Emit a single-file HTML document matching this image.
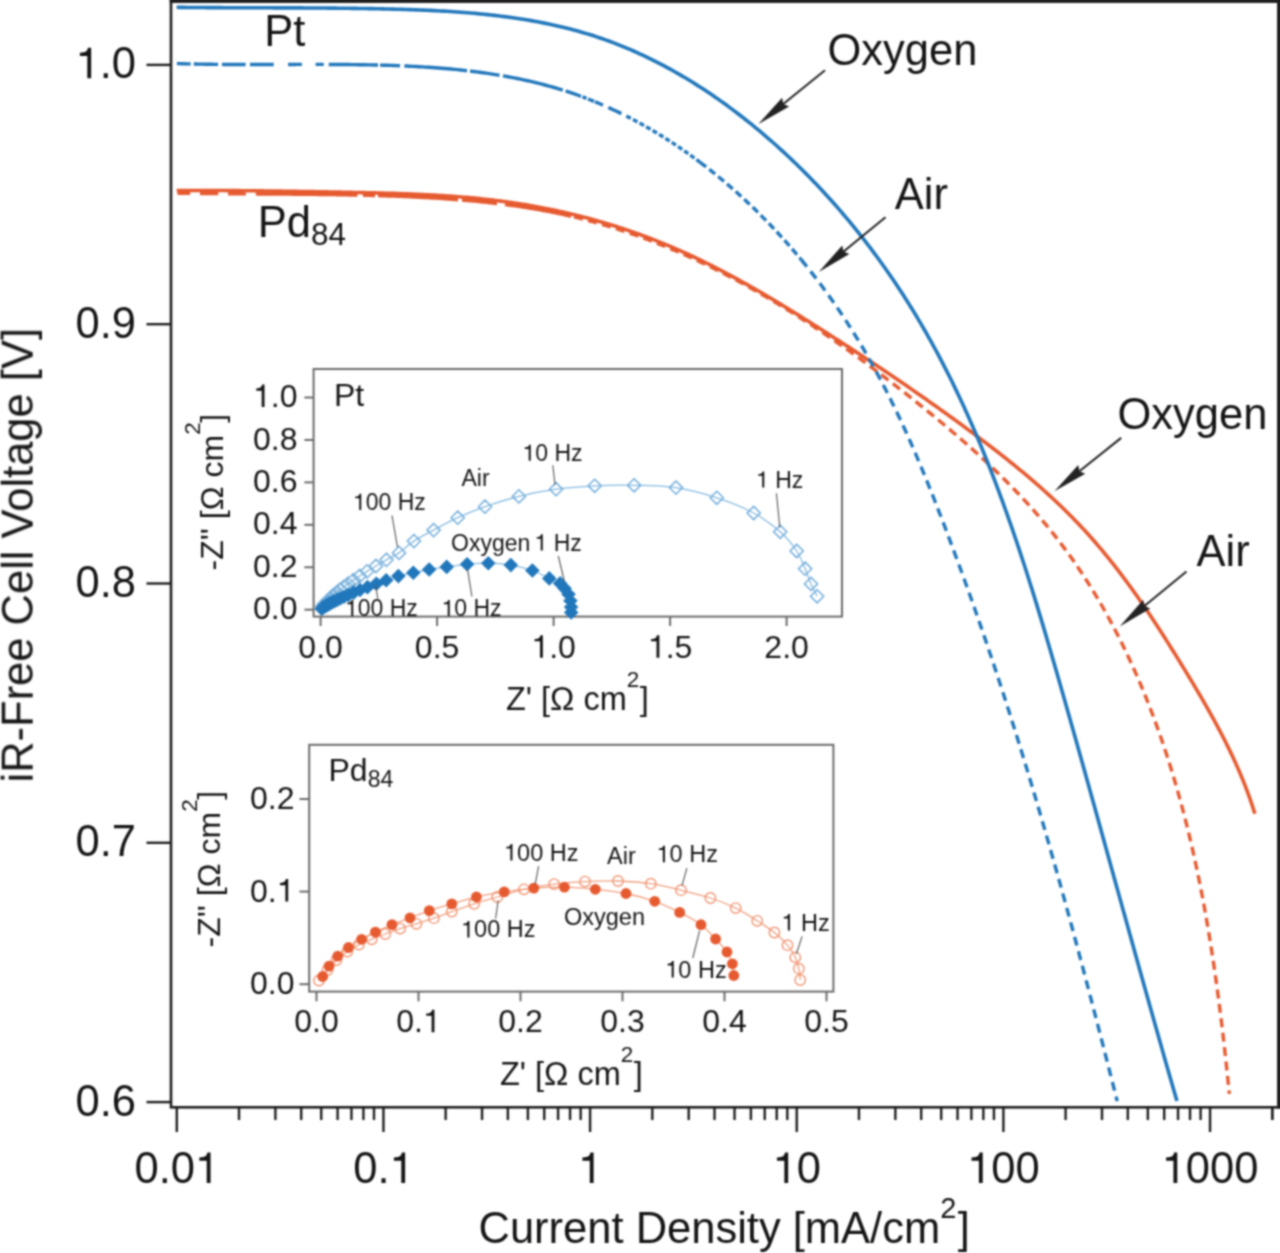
<!DOCTYPE html>
<html><head><meta charset="utf-8"><title>Fuel cell polarization</title>
<style>html,body{margin:0;padding:0;background:#fff;width:1280px;height:1253px;overflow:hidden}
svg{display:block}text{font-family:"Liberation Sans",sans-serif}</style></head>
<body>
<svg width="1280" height="1253" viewBox="0 0 1280 1253" font-family='"Liberation Sans", sans-serif' fill="#141414"><defs><filter id="soft" filterUnits="userSpaceOnUse" x="0" y="0" width="1280" height="1253" color-interpolation-filters="sRGB"><feConvolveMatrix order="5" kernelMatrix="0.00142 0.00904 0.01675 0.00904 0.00142 0.00904 0.05757 0.10673 0.05757 0.00904 0.01675 0.10673 0.19786 0.10673 0.01675 0.00904 0.05757 0.10673 0.05757 0.00904 0.00142 0.00904 0.01675 0.00904 0.00142" divisor="1" edgeMode="duplicate" preserveAlpha="true"/></filter></defs><g filter="url(#soft)"><rect width="100%" height="100%" fill="#fff"/><rect x="171" y="1.2" width="1107.5" height="1106.1" fill="none" stroke="#1e1e1e" stroke-width="2.6"/>
<rect x="169.7" y="-6" width="1120" height="8.9" fill="#1e1e1e"/>
<rect x="1277.2" y="-6" width="12" height="1114.6" fill="#1e1e1e"/>
<line x1="146.5" y1="64.9" x2="171" y2="64.9" stroke="#1e1e1e" stroke-width="2.4"/>
<text x="99.72" y="78.3" font-size="43.5">.0</text><path d="M79.92,55.94 L87.32,55.94 L87.32,78.3 L91.15,78.3 L91.15,47.72 L88.01,47.72 C87.53,49.94 86.66,51.33 84.75,52.07 C83.36,52.59 81.62,52.81 79.92,52.85 Z"/>
<line x1="146.5" y1="324.2" x2="171" y2="324.2" stroke="#1e1e1e" stroke-width="2.4"/>
<text x="75.53" y="337.6" font-size="43.5">0.9</text>
<line x1="146.5" y1="583.5" x2="171" y2="583.5" stroke="#1e1e1e" stroke-width="2.4"/>
<text x="75.53" y="596.9" font-size="43.5">0.8</text>
<line x1="146.5" y1="842.8" x2="171" y2="842.8" stroke="#1e1e1e" stroke-width="2.4"/>
<text x="75.53" y="856.2" font-size="43.5">0.7</text>
<line x1="146.5" y1="1102.1" x2="171" y2="1102.1" stroke="#1e1e1e" stroke-width="2.4"/>
<text x="75.53" y="1115.5" font-size="43.5">0.6</text>
<line x1="176.8" y1="1107" x2="176.8" y2="1132" stroke="#1e1e1e" stroke-width="2.4"/>
<line x1="239.01" y1="1107" x2="239.01" y2="1120" stroke="#1e1e1e" stroke-width="2.4"/>
<line x1="275.4" y1="1107" x2="275.4" y2="1120" stroke="#1e1e1e" stroke-width="2.4"/>
<line x1="301.22" y1="1107" x2="301.22" y2="1120" stroke="#1e1e1e" stroke-width="2.4"/>
<line x1="321.24" y1="1107" x2="321.24" y2="1120" stroke="#1e1e1e" stroke-width="2.4"/>
<line x1="337.6" y1="1107" x2="337.6" y2="1120" stroke="#1e1e1e" stroke-width="2.4"/>
<line x1="351.44" y1="1107" x2="351.44" y2="1120" stroke="#1e1e1e" stroke-width="2.4"/>
<line x1="363.42" y1="1107" x2="363.42" y2="1120" stroke="#1e1e1e" stroke-width="2.4"/>
<line x1="373.99" y1="1107" x2="373.99" y2="1120" stroke="#1e1e1e" stroke-width="2.4"/>
<line x1="383.45" y1="1107" x2="383.45" y2="1132" stroke="#1e1e1e" stroke-width="2.4"/>
<line x1="445.66" y1="1107" x2="445.66" y2="1120" stroke="#1e1e1e" stroke-width="2.4"/>
<line x1="482.05" y1="1107" x2="482.05" y2="1120" stroke="#1e1e1e" stroke-width="2.4"/>
<line x1="507.87" y1="1107" x2="507.87" y2="1120" stroke="#1e1e1e" stroke-width="2.4"/>
<line x1="527.89" y1="1107" x2="527.89" y2="1120" stroke="#1e1e1e" stroke-width="2.4"/>
<line x1="544.25" y1="1107" x2="544.25" y2="1120" stroke="#1e1e1e" stroke-width="2.4"/>
<line x1="558.09" y1="1107" x2="558.09" y2="1120" stroke="#1e1e1e" stroke-width="2.4"/>
<line x1="570.07" y1="1107" x2="570.07" y2="1120" stroke="#1e1e1e" stroke-width="2.4"/>
<line x1="580.64" y1="1107" x2="580.64" y2="1120" stroke="#1e1e1e" stroke-width="2.4"/>
<line x1="590.1" y1="1107" x2="590.1" y2="1132" stroke="#1e1e1e" stroke-width="2.4"/>
<line x1="652.31" y1="1107" x2="652.31" y2="1120" stroke="#1e1e1e" stroke-width="2.4"/>
<line x1="688.7" y1="1107" x2="688.7" y2="1120" stroke="#1e1e1e" stroke-width="2.4"/>
<line x1="714.52" y1="1107" x2="714.52" y2="1120" stroke="#1e1e1e" stroke-width="2.4"/>
<line x1="734.54" y1="1107" x2="734.54" y2="1120" stroke="#1e1e1e" stroke-width="2.4"/>
<line x1="750.9" y1="1107" x2="750.9" y2="1120" stroke="#1e1e1e" stroke-width="2.4"/>
<line x1="764.74" y1="1107" x2="764.74" y2="1120" stroke="#1e1e1e" stroke-width="2.4"/>
<line x1="776.72" y1="1107" x2="776.72" y2="1120" stroke="#1e1e1e" stroke-width="2.4"/>
<line x1="787.29" y1="1107" x2="787.29" y2="1120" stroke="#1e1e1e" stroke-width="2.4"/>
<line x1="796.75" y1="1107" x2="796.75" y2="1132" stroke="#1e1e1e" stroke-width="2.4"/>
<line x1="858.96" y1="1107" x2="858.96" y2="1120" stroke="#1e1e1e" stroke-width="2.4"/>
<line x1="895.35" y1="1107" x2="895.35" y2="1120" stroke="#1e1e1e" stroke-width="2.4"/>
<line x1="921.17" y1="1107" x2="921.17" y2="1120" stroke="#1e1e1e" stroke-width="2.4"/>
<line x1="941.19" y1="1107" x2="941.19" y2="1120" stroke="#1e1e1e" stroke-width="2.4"/>
<line x1="957.55" y1="1107" x2="957.55" y2="1120" stroke="#1e1e1e" stroke-width="2.4"/>
<line x1="971.39" y1="1107" x2="971.39" y2="1120" stroke="#1e1e1e" stroke-width="2.4"/>
<line x1="983.37" y1="1107" x2="983.37" y2="1120" stroke="#1e1e1e" stroke-width="2.4"/>
<line x1="993.94" y1="1107" x2="993.94" y2="1120" stroke="#1e1e1e" stroke-width="2.4"/>
<line x1="1003.4" y1="1107" x2="1003.4" y2="1132" stroke="#1e1e1e" stroke-width="2.4"/>
<line x1="1065.61" y1="1107" x2="1065.61" y2="1120" stroke="#1e1e1e" stroke-width="2.4"/>
<line x1="1102" y1="1107" x2="1102" y2="1120" stroke="#1e1e1e" stroke-width="2.4"/>
<line x1="1127.82" y1="1107" x2="1127.82" y2="1120" stroke="#1e1e1e" stroke-width="2.4"/>
<line x1="1147.84" y1="1107" x2="1147.84" y2="1120" stroke="#1e1e1e" stroke-width="2.4"/>
<line x1="1164.2" y1="1107" x2="1164.2" y2="1120" stroke="#1e1e1e" stroke-width="2.4"/>
<line x1="1178.04" y1="1107" x2="1178.04" y2="1120" stroke="#1e1e1e" stroke-width="2.4"/>
<line x1="1190.02" y1="1107" x2="1190.02" y2="1120" stroke="#1e1e1e" stroke-width="2.4"/>
<line x1="1200.59" y1="1107" x2="1200.59" y2="1120" stroke="#1e1e1e" stroke-width="2.4"/>
<line x1="1210.05" y1="1107" x2="1210.05" y2="1132" stroke="#1e1e1e" stroke-width="2.4"/>
<line x1="1272.26" y1="1107" x2="1272.26" y2="1120" stroke="#1e1e1e" stroke-width="2.4"/>
<line x1="1272.26" y1="1107" x2="1272.26" y2="1120" stroke="#1e1e1e" stroke-width="2.4"/>
<text x="134.47" y="1183" font-size="43.5">0.0</text><path d="M199.33,1160.64 L206.73,1160.64 L206.73,1183 L210.56,1183 L210.56,1152.42 L207.42,1152.42 C206.95,1154.64 206.08,1156.03 204.16,1156.77 C202.77,1157.29 201.03,1157.51 199.33,1157.55 Z"/>
<text x="353.21" y="1183" font-size="43.5">0.</text><path d="M393.89,1160.64 L401.28,1160.64 L401.28,1183 L405.11,1183 L405.11,1152.42 L401.98,1152.42 C401.5,1154.64 400.63,1156.03 398.71,1156.77 C397.32,1157.29 395.58,1157.51 393.89,1157.55 Z"/>
<path d="M582.4,1160.64 L589.79,1160.64 L589.79,1183 L593.62,1183 L593.62,1152.42 L590.49,1152.42 C590.01,1154.64 589.14,1156.03 587.23,1156.77 C585.83,1157.29 584.09,1157.51 582.4,1157.55 Z"/>
<text x="796.75" y="1183" font-size="43.5">0</text><path d="M776.95,1160.64 L784.35,1160.64 L784.35,1183 L788.17,1183 L788.17,1152.42 L785.04,1152.42 C784.56,1154.64 783.69,1156.03 781.78,1156.77 C780.39,1157.29 778.65,1157.51 776.95,1157.55 Z"/>
<text x="991.3" y="1183" font-size="43.5">00</text><path d="M971.5,1160.64 L978.9,1160.64 L978.9,1183 L982.73,1183 L982.73,1152.42 L979.6,1152.42 C979.12,1154.64 978.25,1156.03 976.33,1156.77 C974.94,1157.29 973.2,1157.51 971.5,1157.55 Z"/>
<text x="1185.86" y="1183" font-size="43.5">000</text><path d="M1166.06,1160.64 L1173.45,1160.64 L1173.45,1183 L1177.28,1183 L1177.28,1152.42 L1174.15,1152.42 C1173.67,1154.64 1172.8,1156.03 1170.89,1156.77 C1169.49,1157.29 1167.75,1157.51 1166.06,1157.55 Z"/>
<text x="478.5" y="1243.3" font-size="43.5">Current Density [mA/cm<tspan font-size="29" dy="-25">2</tspan><tspan dy="25" dx="1.5">]</tspan></text>
<text transform="translate(32.7,782.5) rotate(-90)" x="0" y="0" font-size="43.5">iR-Free Cell Voltage [V]</text>
<path d="M176.73,193.17 L179.89,193.22 L183.04,193.27 L186.2,193.31 L189.36,193.35 L192.51,193.39 L195.66,193.43 L198.82,193.47 L201.97,193.5 L205.13,193.53 L208.28,193.56 L211.43,193.59 L214.58,193.62 L217.74,193.65 L220.89,193.67 L224.04,193.7 L227.19,193.72 L230.34,193.74 L233.49,193.77 L236.64,193.79 L239.79,193.81 L242.94,193.83 L246.09,193.85 L249.25,193.87 L252.4,193.89 L255.55,193.91 L258.7,193.93 L261.85,193.95 L265,193.97 L268.15,193.99 L271.3,194.01 L274.45,194.03 L277.61,194.06 L280.76,194.08 L283.91,194.1 L287.06,194.13 L290.22,194.15 L293.37,194.18 L296.53,194.21 L299.68,194.24 L302.84,194.27 L305.99,194.3 L309.15,194.33 L312.31,194.37 L315.46,194.4 L318.62,194.44 L321.78,194.48 L324.94,194.52 L328.1,194.57 L331.26,194.62 L334.43,194.67 L337.59,194.72 L340.75,194.77 L343.92,194.83 L347.08,194.89 L350.25,194.95 L353.42,195.02 L356.59,195.08 L359.76,195.15 L362.93,195.23 L366.1,195.31 L369.27,195.39 L372.45,195.47 L375.63,195.56 L378.8,195.65 L381.98,195.75 L385.16,195.85 L388.34,195.95 L391.52,196.06 L394.7,196.17 L397.89,196.29 L401.07,196.41 L404.25,196.54 L407.44,196.67 L410.62,196.81 L413.81,196.96 L416.99,197.11 L420.18,197.27 L423.36,197.43 L426.54,197.6 L429.73,197.78 L432.91,197.97 L436.09,198.16 L439.28,198.36 L442.46,198.57 L445.64,198.78 L448.82,199 L451.99,199.24 L455.17,199.48 L458.35,199.73 L461.52,199.98 L464.69,200.25 L467.87,200.53 L471.04,200.81 L474.2,201.11 L477.37,201.42 L480.53,201.73 L483.7,202.06 L486.85,202.4 L490.01,202.74 L493.17,203.1 L496.32,203.47 L499.47,203.85 L502.62,204.25 L505.76,204.65 L508.9,205.07 L512.04,205.5 L515.17,205.94 L518.31,206.4 L521.43,206.86 L524.56,207.34 L527.68,207.84 L530.8,208.34 L533.91,208.86 L537.02,209.4 L540.13,209.95 L543.23,210.51 L546.33,211.09 L549.42,211.68 L552.51,212.29 L555.6,212.91 L558.68,213.55 L561.76,214.2 L564.83,214.87 L567.89,215.55 L570.95,216.25 L574.01,216.97" fill="none" stroke="#e65a30" stroke-width="3.4" stroke-dasharray="0.00 0.77 12.70 9.80 18.30 9.80 17.80 9.90 101.71 5.50 12.00 3.00 80.11 4.01 35.18 8.06 67.06 53.09"/>
<path d="M574.01,216.97 L577.06,217.7 L580.11,218.45 L583.15,219.22 L586.18,220 L589.21,220.8 L592.24,221.62 L595.26,222.45 L598.27,223.29 L601.28,224.16 L604.29,225.03 L607.29,225.93 L610.28,226.84 L613.27,227.76 L616.25,228.7 L619.23,229.66 L622.21,230.63 L625.18,231.61 L628.14,232.61 L631.1,233.62 L634.05,234.65 L637,235.7 L639.95,236.75 L642.88,237.83 L645.82,238.91 L648.75,240.01 L651.67,241.13 L654.59,242.26 L657.5,243.4 L660.41,244.56 L663.32,245.72 L666.22,246.91 L669.11,248.1 L672,249.31 L674.89,250.54 L677.77,251.77 L680.64,253.02 L683.51,254.28 L686.38,255.56 L689.24,256.85 L692.09,258.14 L694.95,259.46 L697.79,260.78 L700.63,262.12 L703.47,263.47 L706.3,264.83 L709.13,266.2 L711.95,267.59 L714.77,268.98 L717.58,270.39 L720.39,271.81 L723.19,273.24 L725.99,274.68 L728.79,276.14 L731.58,277.6 L734.36,279.08 L737.14,280.57 L739.92,282.06 L742.69,283.57 L745.45,285.09 L748.22,286.62 L750.97,288.16 L753.73,289.71 L756.47,291.27 L759.22,292.84 L761.96,294.42 L764.69,296.01 L767.42,297.61 L770.14,299.22 L772.87,300.84 L775.58,302.47 L778.29,304.1 L781,305.75 L783.7,307.41 L786.4,309.07 L789.09,310.75 L791.78,312.43 L794.47,314.12 L797.15,315.82 L799.83,317.53 L802.5,319.25 L805.16,320.98 L807.83,322.71 L810.49,324.45 L813.14,326.2 L815.79,327.96 L818.44,329.73 L821.08,331.5 L823.71,333.28 L826.35,335.07 L828.97,336.87 L831.6,338.67 L834.22,340.48 L836.83,342.3 L839.44,344.12 L842.05,345.96 L844.65,347.79 L847.25,349.64 L849.84,351.49 L852.43,353.35 L855.02,355.21 L857.6,357.08 L860.18,358.96 L862.75,360.84 L865.32,362.73 L867.89,364.63 L870.45,366.53 L873,368.44 L875.55,370.35 L878.1,372.26 L880.65,374.19 L883.19,376.11 L885.72,378.05 L888.25,379.99 L890.78,381.93 L893.31,383.88 L895.83,385.83 L898.34,387.79 L900.85,389.75 L903.36,391.71 L905.86,393.68 L908.36,395.66 L910.86,397.64 L913.35,399.62 L915.84,401.6 L918.32,403.6 L920.8,405.59 L923.28,407.59 L925.75,409.59 L928.22,411.6 L930.68,413.61 L933.13,415.62 L935.59,417.64 L938.03,419.67 L940.48,421.69 L942.91,423.73 L945.34,425.77 L947.77,427.81 L950.18,429.86 L952.6,431.92 L955,433.98 L957.4,436.05 L959.79,438.12 L962.18,440.2 L964.56,442.28 L966.93,444.37 L969.3,446.47 L971.65,448.58 L974,450.69 L976.34,452.8 L978.68,454.93 L981,457.06 L983.32,459.2 L985.63,461.35 L987.93,463.5 L990.22,465.66 L992.5,467.83 L994.77,470.01 L997.04,472.19 L999.29,474.38 L1001.54,476.59 L1003.77,478.8 L1006,481.01 L1008.21,483.24 L1010.42,485.48 L1012.61,487.72 L1014.79,489.97 L1016.97,492.24 L1019.13,494.51 L1021.28,496.79 L1023.42,499.08 L1025.55,501.38 L1027.66,503.69 L1029.77,506.01 L1031.86,508.34 L1033.94,510.68 L1036.01,513.04 L1038.06,515.4 L1040.11,517.77 L1042.14,520.15 L1044.16,522.55 L1046.16,524.95 L1048.15,527.37 L1050.13,529.79 L1052.09,532.23 L1054.04,534.68 L1055.98,537.14 L1057.9,539.62 L1059.81,542.1 L1061.71,544.6 L1063.59,547.11 L1065.45,549.63 L1067.3,552.16 L1069.14,554.7 L1070.97,557.26 L1072.78,559.83 L1074.57,562.4 L1076.35,564.99 L1078.12,567.59 L1079.88,570.2 L1081.62,572.82 L1083.34,575.44 L1085.06,578.08 L1086.76,580.73 L1088.44,583.39 L1090.12,586.06 L1091.77,588.74 L1093.42,591.43 L1095.05,594.13 L1096.67,596.83 L1098.28,599.55 L1099.87,602.27 L1101.45,605.01 L1103.02,607.75 L1104.58,610.5 L1106.12,613.26 L1107.65,616.02 L1109.16,618.8 L1110.67,621.58 L1112.16,624.37 L1113.63,627.17 L1115.1,629.97 L1116.55,632.79 L1117.99,635.61 L1119.42,638.43 L1120.84,641.27 L1122.24,644.11 L1123.63,646.95 L1125.01,649.81 L1126.38,652.67 L1127.73,655.54 L1129.07,658.41 L1130.4,661.29 L1131.72,664.17 L1133.03,667.06 L1134.33,669.96 L1135.61,672.86 L1136.88,675.76 L1138.14,678.68 L1139.39,681.59 L1140.63,684.51 L1141.85,687.44 L1143.06,690.37 L1144.27,693.3 L1145.46,696.24 L1146.64,699.19 L1147.81,702.13 L1148.96,705.09 L1150.11,708.04 L1151.25,711 L1152.37,713.96 L1153.48,716.93 L1154.59,719.9 L1155.68,722.87 L1156.76,725.85 L1157.83,728.82 L1158.89,731.81 L1159.94,734.79 L1160.98,737.78 L1162,740.77 L1163.02,743.77 L1164.03,746.77 L1165.03,749.77 L1166.02,752.77 L1166.99,755.78 L1167.96,758.79 L1168.92,761.81 L1169.87,764.82 L1170.81,767.84 L1171.73,770.86 L1172.65,773.89 L1173.56,776.92 L1174.46,779.95 L1175.35,782.98 L1176.23,786.02 L1177.11,789.05 L1177.97,792.09 L1178.82,795.14 L1179.67,798.18 L1180.51,801.23 L1181.33,804.28 L1182.15,807.34 L1182.96,810.39 L1183.76,813.45 L1184.55,816.51 L1185.34,819.57 L1186.11,822.64 L1186.88,825.71 L1187.64,828.78 L1188.39,831.85 L1189.13,834.92 L1189.87,838 L1190.59,841.07 L1191.31,844.15 L1192.02,847.24 L1192.72,850.32 L1193.42,853.4 L1194.11,856.49 L1194.79,859.58 L1195.46,862.67 L1196.12,865.76 L1196.78,868.86 L1197.43,871.96 L1198.07,875.05 L1198.71,878.15 L1199.34,881.25 L1199.96,884.36 L1200.58,887.46 L1201.18,890.57 L1201.78,893.67 L1202.38,896.78 L1202.97,899.89 L1203.55,903 L1204.12,906.11 L1204.69,909.23 L1205.25,912.34 L1205.81,915.46 L1206.36,918.58 L1206.9,921.69 L1207.44,924.81 L1207.97,927.93 L1208.49,931.05 L1209.01,934.18 L1209.52,937.3 L1210.03,940.43 L1210.53,943.55 L1211.03,946.68 L1211.52,949.8 L1212.01,952.93 L1212.49,956.06 L1212.96,959.19 L1213.43,962.32 L1213.9,965.45 L1214.35,968.58 L1214.81,971.71 L1215.26,974.84 L1215.7,977.98 L1216.14,981.11 L1216.58,984.24 L1217.01,987.38 L1217.43,990.51 L1217.85,993.65 L1218.27,996.78 L1218.68,999.92 L1219.09,1003.05 L1219.49,1006.19 L1219.89,1009.32 L1220.29,1012.46 L1220.68,1015.59 L1221.07,1018.73 L1221.45,1021.87 L1221.83,1025 L1222.21,1028.14 L1222.58,1031.27 L1222.95,1034.41 L1223.31,1037.55 L1223.68,1040.68 L1224.03,1043.82 L1224.39,1046.95 L1224.74,1050.08 L1225.09,1053.22 L1225.44,1056.35 L1225.78,1059.49 L1226.12,1062.62 L1226.45,1065.75 L1226.79,1068.88 L1227.12,1072.01 L1227.45,1075.15 L1227.77,1078.28 L1228.1,1081.41 L1228.42,1084.53 L1228.74,1087.66 L1229.05,1090.79 L1229.37,1093.92" fill="none" stroke="#e65a30" stroke-width="3.4" stroke-dasharray="9 5.5"/>
<path d="M176.69,190.53 L179.38,190.52 L182.06,190.51 L184.75,190.5 L187.43,190.49 L190.12,190.49 L192.8,190.48 L195.49,190.48 L198.17,190.48 L200.85,190.48 L203.53,190.49 L206.22,190.49 L208.9,190.5 L211.58,190.51 L214.26,190.51 L216.94,190.53 L219.62,190.54 L222.3,190.55 L224.98,190.57 L227.66,190.58 L230.33,190.6 L233.01,190.62 L235.69,190.64 L238.37,190.66 L241.04,190.68 L243.72,190.71 L246.4,190.73 L249.08,190.76 L251.75,190.78 L254.43,190.81 L257.11,190.84 L259.78,190.87 L262.46,190.9 L265.14,190.94 L267.81,190.97 L270.49,191 L273.17,191.04 L275.84,191.08 L278.52,191.11 L281.2,191.15 L283.87,191.19 L286.55,191.23 L289.23,191.27 L291.9,191.31 L294.58,191.36 L297.26,191.4 L299.94,191.44 L302.62,191.49 L305.29,191.53 L307.97,191.58 L310.65,191.62 L313.33,191.67 L316.01,191.72 L318.69,191.77 L321.37,191.82 L324.05,191.86 L326.73,191.91 L329.41,191.96 L332.1,192.01 L334.78,192.07 L337.46,192.12 L340.15,192.17 L342.83,192.22 L345.51,192.27 L348.2,192.33 L350.88,192.38 L353.57,192.43 L356.26,192.49 L358.94,192.54 L361.63,192.6 L364.32,192.66 L367.01,192.72 L369.7,192.78 L372.38,192.84 L375.07,192.9 L377.76,192.97 L380.45,193.04 L383.14,193.11 L385.83,193.18 L388.52,193.26 L391.21,193.34 L393.9,193.42 L396.59,193.51 L399.27,193.6 L401.96,193.69 L404.65,193.79 L407.34,193.89 L410.03,193.99 L412.72,194.1 L415.4,194.21 L418.09,194.33 L420.78,194.45 L423.46,194.58 L426.15,194.71 L428.83,194.85 L431.52,194.99 L434.2,195.14 L436.88,195.29 L439.57,195.45 L442.25,195.62 L444.93,195.79 L447.61,195.97 L450.29,196.15 L452.97,196.34 L455.65,196.54 L458.32,196.74 L461,196.95 L463.67,197.17 L466.35,197.4 L469.02,197.63 L471.69,197.88 L474.36,198.13 L477.03,198.38 L479.7,198.65 L482.37,198.93 L485.03,199.21 L487.7,199.5 L490.36,199.8 L493.02,200.11 L495.68,200.43 L498.34,200.76 L501,201.1 L503.65,201.45 L506.31,201.8 L508.96,202.17 L511.61,202.55 L514.26,202.94 L516.91,203.34 L519.55,203.75 L522.19,204.17 L524.84,204.6 L527.48,205.04 L530.11,205.49 L532.75,205.95 L535.38,206.42 L538.02,206.91 L540.65,207.4 L543.27,207.91 L545.9,208.42 L548.52,208.95 L551.14,209.48 L553.76,210.03 L556.38,210.59 L558.99,211.15 L561.6,211.73 L564.21,212.32 L566.82,212.92 L569.42,213.53 L572.02,214.15 L574.62,214.78 L577.22,215.42 L579.81,216.08 L582.4,216.74 L584.99,217.41 L587.57,218.1 L590.15,218.79 L592.73,219.5 L595.3,220.22 L597.88,220.94 L600.45,221.68 L603.01,222.43 L605.57,223.19 L608.13,223.96 L610.69,224.74 L613.24,225.53 L615.79,226.33 L618.34,227.14 L620.88,227.97 L623.42,228.8 L625.96,229.65 L628.49,230.5 L631.02,231.37 L633.54,232.24 L636.06,233.13 L638.58,234.03 L641.09,234.94 L643.6,235.86 L646.11,236.79 L648.61,237.73 L651.11,238.68 L653.6,239.64 L656.09,240.62 L658.58,241.6 L661.06,242.59 L663.54,243.6 L666.01,244.62 L668.48,245.64 L670.95,246.68 L673.41,247.73 L675.86,248.79 L678.31,249.86 L680.76,250.94 L683.2,252.03 L685.64,253.13 L688.08,254.24 L690.51,255.37 L692.93,256.5 L695.35,257.64 L697.77,258.79 L700.19,259.95 L702.59,261.12 L705,262.3 L707.4,263.49 L709.8,264.68 L712.2,265.89 L714.59,267.1 L716.97,268.32 L719.36,269.55 L721.74,270.79 L724.11,272.03 L726.48,273.29 L728.85,274.55 L731.22,275.82 L733.58,277.09 L735.94,278.38 L738.3,279.67 L740.65,280.96 L743,282.27 L745.34,283.58 L747.69,284.89 L750.03,286.22 L752.36,287.54 L754.7,288.88 L757.03,290.22 L759.36,291.56 L761.68,292.91 L764,294.27 L766.32,295.63 L768.64,297 L770.95,298.37 L773.27,299.75 L775.58,301.13 L777.88,302.51 L780.19,303.9 L782.49,305.3 L784.79,306.69 L787.08,308.09 L789.38,309.5 L791.67,310.91 L793.96,312.32 L796.25,313.73 L798.54,315.15 L800.82,316.57 L803.1,318 L805.38,319.42 L807.66,320.85 L809.94,322.28 L812.21,323.71 L814.48,325.15 L816.76,326.59 L819.02,328.02 L821.29,329.46 L823.56,330.91 L825.82,332.35 L828.08,333.79 L830.35,335.24 L832.61,336.69 L834.86,338.14 L837.12,339.59 L839.37,341.04 L841.63,342.5 L843.88,343.96 L846.13,345.41 L848.37,346.87 L850.62,348.34 L852.86,349.8 L855.11,351.27 L857.35,352.74 L859.59,354.21 L861.83,355.68 L864.06,357.15 L866.3,358.63 L868.53,360.11 L870.76,361.59 L872.99,363.07 L875.22,364.56 L877.45,366.04 L879.67,367.53 L881.9,369.02 L884.12,370.52 L886.34,372.01 L888.56,373.51 L890.78,375.01 L892.99,376.51 L895.21,378.01 L897.42,379.52 L899.63,381.03 L901.84,382.54 L904.05,384.06 L906.25,385.57 L908.46,387.09 L910.66,388.61 L912.87,390.14 L915.07,391.66 L917.26,393.19 L919.46,394.72 L921.66,396.26 L923.85,397.79 L926.05,399.33 L928.24,400.87 L930.43,402.42 L932.62,403.96 L934.8,405.51 L936.99,407.06 L939.17,408.62 L941.35,410.18 L943.53,411.74 L945.71,413.3 L947.89,414.87 L950.07,416.43 L952.24,418.01 L954.42,419.58 L956.59,421.16 L958.76,422.74 L960.93,424.32 L963.1,425.91 L965.26,427.5 L967.43,429.09 L969.59,430.69 L971.75,432.29 L973.9,433.89 L976.06,435.5 L978.21,437.11 L980.36,438.72 L982.51,440.34 L984.65,441.96 L986.79,443.59 L988.93,445.22 L991.06,446.86 L993.19,448.5 L995.31,450.14 L997.43,451.79 L999.55,453.44 L1001.67,455.1 L1003.77,456.77 L1005.88,458.44 L1007.98,460.11 L1010.07,461.79 L1012.17,463.48 L1014.25,465.17 L1016.33,466.86 L1018.41,468.57 L1020.47,470.27 L1022.54,471.99 L1024.6,473.71 L1026.65,475.44 L1028.7,477.17 L1030.74,478.91 L1032.77,480.65 L1034.8,482.4 L1036.82,484.16 L1038.83,485.93 L1040.84,487.7 L1042.84,489.48 L1044.83,491.27 L1046.82,493.06 L1048.8,494.86 L1050.77,496.67 L1052.73,498.48 L1054.68,500.31 L1056.63,502.14 L1058.57,503.98 L1060.5,505.82 L1062.43,507.68 L1064.34,509.54 L1066.24,511.41 L1068.14,513.29 L1070.03,515.18 L1071.91,517.07 L1073.78,518.98 L1075.64,520.89 L1077.49,522.81 L1079.33,524.74 L1081.16,526.68 L1082.98,528.63 L1084.79,530.59 L1086.59,532.56 L1088.38,534.54 L1090.16,536.52 L1091.93,538.52 L1093.69,540.52 L1095.45,542.54 L1097.19,544.56 L1098.92,546.59 L1100.64,548.63 L1102.36,550.67 L1104.06,552.73 L1105.76,554.79 L1107.44,556.86 L1109.12,558.94 L1110.79,561.02 L1112.45,563.12 L1114.1,565.22 L1115.75,567.33 L1117.39,569.44 L1119.02,571.56 L1120.64,573.69 L1122.25,575.83 L1123.86,577.97 L1125.45,580.12 L1127.04,582.27 L1128.63,584.44 L1130.21,586.6 L1131.78,588.78 L1133.34,590.96 L1134.89,593.14 L1136.44,595.33 L1137.99,597.53 L1139.53,599.73 L1141.06,601.93 L1142.58,604.14 L1144.1,606.36 L1145.61,608.58 L1147.12,610.81 L1148.62,613.04 L1150.12,615.27 L1151.61,617.51 L1153.1,619.75 L1154.58,622 L1156.05,624.25 L1157.53,626.5 L1158.99,628.76 L1160.45,631.02 L1161.91,633.28 L1163.37,635.55 L1164.82,637.82 L1166.26,640.1 L1167.7,642.37 L1169.14,644.65 L1170.57,646.93 L1172,649.22 L1173.43,651.51 L1174.85,653.79 L1176.28,656.08 L1177.69,658.38 L1179.11,660.67 L1180.52,662.97 L1181.93,665.27 L1183.34,667.57 L1184.74,669.87 L1186.14,672.17 L1187.54,674.47 L1188.94,676.77 L1190.33,679.08 L1191.72,681.39 L1193.1,683.7 L1194.48,686.01 L1195.86,688.32 L1197.23,690.64 L1198.6,692.96 L1199.96,695.28 L1201.32,697.6 L1202.67,699.92 L1204.01,702.25 L1205.35,704.58 L1206.68,706.91 L1208.01,709.25 L1209.33,711.59 L1210.64,713.93 L1211.94,716.28 L1213.24,718.62 L1214.52,720.98 L1215.8,723.33 L1217.07,725.69 L1218.33,728.05 L1219.59,730.42 L1220.83,732.79 L1222.06,735.16 L1223.29,737.54 L1224.5,739.92 L1225.7,742.31 L1226.9,744.7 L1228.08,747.09 L1229.25,749.49 L1230.41,751.9 L1231.56,754.31 L1232.69,756.72 L1233.81,759.14 L1234.92,761.56 L1236.02,763.99 L1237.11,766.43 L1238.18,768.87 L1239.23,771.31 L1240.28,773.76 L1241.31,776.22 L1242.32,778.68 L1243.32,781.15 L1244.31,783.62 L1245.28,786.1 L1246.24,788.59 L1247.18,791.08 L1248.1,793.58 L1249.01,796.08 L1249.9,798.6 L1250.77,801.11 L1251.63,803.64 L1252.47,806.17 L1253.29,808.71 L1254.1,811.25 L1254.89,813.81" fill="none" stroke="#e65a30" stroke-width="3.6"/>
<path d="M176.79,63.55 L179.95,63.65 L183.11,63.74 L186.27,63.83 L189.43,63.91 L192.59,63.98 L195.76,64.05 L198.92,64.11 L202.09,64.17 L205.25,64.22 L208.42,64.27 L211.59,64.31 L214.76,64.35 L217.93,64.38 L221.1,64.41 L224.27,64.44 L227.45,64.46 L230.62,64.48 L233.8,64.5 L236.97,64.51 L240.15,64.52 L243.33,64.52 L246.51,64.53 L249.69,64.53 L252.87,64.53 L256.05,64.53 L259.24,64.52 L262.42,64.52 L265.61,64.51 L268.79,64.51 L271.98,64.5 L275.17,64.49 L278.35,64.48 L281.54,64.47 L284.73,64.46 L287.92,64.45 L291.12,64.44 L294.31,64.43 L297.5,64.42 L300.7,64.42 L303.89,64.41 L307.09,64.41 L310.28,64.4 L313.48,64.4 L316.68,64.4 L319.88,64.4 L323.07,64.41 L326.27,64.42 L329.47,64.43 L332.68,64.44 L335.88,64.46 L339.08,64.48 L342.28,64.5 L345.49,64.53 L348.69,64.56 L351.89,64.6 L355.1,64.63 L358.31,64.68 L361.51,64.73 L364.72,64.78 L367.93,64.84 L371.14,64.91 L374.34,64.98 L377.55,65.05 L380.76,65.13 L383.97,65.22 L387.18,65.32 L390.39,65.42 L393.6,65.53 L396.81,65.65 L400.02,65.77 L403.23,65.9 L406.44,66.04 L409.65,66.19 L412.86,66.35 L416.06,66.52 L419.27,66.7 L422.47,66.88 L425.67,67.08 L428.87,67.29 L432.07,67.51 L435.27,67.74 L438.46,67.98 L441.65,68.23 L444.85,68.5 L448.03,68.77 L451.22,69.06 L454.4,69.36 L457.58,69.68 L460.76,70.01 L463.94,70.35 L467.11,70.7 L470.28,71.07 L473.44,71.46 L476.6,71.86 L479.76,72.27 L482.92,72.7 L486.07,73.15 L489.21,73.61 L492.35,74.09 L495.49,74.58 L498.63,75.09 L501.75,75.62 L504.88,76.17 L508,76.73 L511.11,77.31 L514.22,77.91 L517.33,78.53 L520.42,79.17 L523.52,79.83 L526.61,80.5 L529.69,81.2 L532.76,81.91 L535.83,82.65 L538.9,83.41 L541.96,84.19 L545.01,84.99 L548.05,85.81 L551.09,86.65 L554.12,87.51 L557.15,88.4 L560.16,89.31 L563.17,90.24 L566.18,91.2 L569.17,92.18 L572.16,93.18 L575.14,94.21 L578.11,95.26 L581.08,96.34 L584.03,97.44 L586.98,98.56 L589.92,99.71 L592.85,100.87 L595.78,102.06 L598.69,103.28 L601.6,104.51 L604.5,105.77 L607.39,107.05 L610.27,108.35 L613.15,109.68 L616.01,111.02 L618.87,112.39 L621.72,113.78 L624.56,115.18" fill="none" stroke="#2177bb" stroke-width="3.4" stroke-dasharray="0.00 0.11 13.71 3.15 24.35 3.80 23.70 4.40 23.75 14.35 13.80 13.70 8.15 5.00 49.26 2.00 20.01 4.40 62.79 3.02 29.80 3.55 61.53 2.94 16.29 1.60 4.28 1.61 6.46 1.08 8.68 5.79 14.48 53.52"/>
<path d="M624.56,115.18 L627.39,116.61 L630.21,118.06 L633.02,119.53 L635.82,121.02 L638.61,122.53 L641.4,124.06 L644.17,125.61 L646.94,127.18 L649.69,128.77 L652.44,130.37 L655.17,132 L657.9,133.64 L660.62,135.31 L663.32,136.99 L666.02,138.69 L668.7,140.4 L671.38,142.14 L674.05,143.89 L676.7,145.66 L679.35,147.45 L681.98,149.25 L684.61,151.07 L687.22,152.91 L689.83,154.76 L692.42,156.63 L695,158.52 L697.58,160.42 L700.14,162.34" fill="none" stroke="#2177bb" stroke-width="3.4" stroke-dasharray="5 2.5" stroke-dashoffset="-2"/>
<path d="M700.14,162.34 L702.69,164.27 L705.22,166.22 L707.75,168.18 L710.27,170.16 L712.77,172.15 L715.27,174.16 L717.75,176.18 L720.22,178.21 L722.68,180.26 L725.13,182.33 L727.56,184.4 L729.99,186.49 L732.4,188.6 L734.8,190.71 L737.19,192.84 L739.57,194.99 L741.93,197.14 L744.29,199.31 L746.63,201.49 L748.96,203.68 L751.27,205.88 L753.58,208.1 L755.87,210.33 L758.15,212.57 L760.42,214.82 L762.67,217.08 L764.92,219.35 L767.15,221.64 L769.37,223.94 L771.58,226.25 L773.77,228.57 L775.95,230.9 L778.12,233.24 L780.28,235.59 L782.43,237.95 L784.56,240.33 L786.69,242.71 L788.8,245.11 L790.89,247.51 L792.98,249.93 L795.05,252.35 L797.11,254.79 L799.16,257.24 L801.2,259.69" fill="none" stroke="#2177bb" stroke-width="3.4" stroke-dasharray="7.5 4"/>
<path d="M801.2,259.69 L803.22,262.16 L805.23,264.63 L807.23,267.12 L809.22,269.61 L811.2,272.12 L813.16,274.63 L815.11,277.15 L817.05,279.69 L818.98,282.23 L820.89,284.78 L822.79,287.34 L824.68,289.91 L826.56,292.48 L828.43,295.07 L830.28,297.66 L832.12,300.27 L833.95,302.88 L835.76,305.5 L837.57,308.12 L839.36,310.76 L841.14,313.4 L842.9,316.05 L844.66,318.71 L846.4,321.38 L848.13,324.05 L849.85,326.73 L851.55,329.42 L853.24,332.12 L854.92,334.82 L856.59,337.53 L858.25,340.25 L859.89,342.98 L861.52,345.71 L863.14,348.45 L864.74,351.19 L866.34,353.94 L867.92,356.7 L869.49,359.47 L871.05,362.24 L872.59,365.02 L874.13,367.8 L875.65,370.59 L877.16,373.38 L878.66,376.18 L880.15,378.99 L881.63,381.8 L883.1,384.62 L884.56,387.45 L886,390.27 L887.44,393.11 L888.87,395.95 L890.29,398.79 L891.69,401.64 L893.09,404.5 L894.48,407.36 L895.86,410.22 L897.23,413.09 L898.59,415.96 L899.94,418.84 L901.29,421.73 L902.62,424.61 L903.95,427.5 L905.27,430.4 L906.58,433.3 L907.88,436.2 L909.17,439.11 L910.46,442.02 L911.74,444.93 L913.01,447.85 L914.28,450.77 L915.54,453.7 L916.79,456.63 L918.03,459.56 L919.27,462.49 L920.5,465.43 L921.73,468.37 L922.95,471.32 L924.16,474.26 L925.37,477.21 L926.57,480.16 L927.77,483.12 L928.96,486.07 L930.14,489.03 L931.32,492 L932.5,494.96 L933.67,497.92 L934.84,500.89 L936,503.86 L937.16,506.83 L938.31,509.81 L939.46,512.78 L940.61,515.76 L941.75,518.73 L942.89,521.71 L944.02,524.69 L945.16,527.67 L946.28,530.66 L947.41,533.64 L948.53,536.62 L949.65,539.61 L950.77,542.59 L951.89,545.58 L953,548.57 L954.11,551.56 L955.21,554.55 L956.32,557.54 L957.42,560.53 L958.51,563.53 L959.61,566.52 L960.7,569.51 L961.79,572.51 L962.87,575.51 L963.96,578.5 L965.04,581.5 L966.11,584.5 L967.19,587.5 L968.26,590.5 L969.33,593.51 L970.4,596.51 L971.46,599.51 L972.52,602.52 L973.58,605.52 L974.63,608.53 L975.69,611.54 L976.74,614.55 L977.78,617.56 L978.83,620.57 L979.87,623.58 L980.91,626.59 L981.95,629.6 L982.98,632.62 L984.01,635.63 L985.04,638.65 L986.07,641.66 L987.09,644.68 L988.11,647.7 L989.13,650.72 L990.14,653.74 L991.16,656.76 L992.17,659.78 L993.17,662.8 L994.18,665.83 L995.18,668.85 L996.18,671.87 L997.18,674.9 L998.17,677.93 L999.17,680.95 L1000.16,683.98 L1001.14,687.01 L1002.13,690.04 L1003.11,693.07 L1004.09,696.1 L1005.07,699.13 L1006.04,702.17 L1007.02,705.2 L1007.99,708.23 L1008.95,711.27 L1009.92,714.3 L1010.88,717.34 L1011.84,720.38 L1012.8,723.42 L1013.75,726.46 L1014.71,729.49 L1015.66,732.53 L1016.61,735.58 L1017.55,738.62 L1018.5,741.66 L1019.44,744.7 L1020.38,747.75 L1021.31,750.79 L1022.25,753.84 L1023.18,756.88 L1024.11,759.93 L1025.04,762.98 L1025.96,766.02 L1026.89,769.07 L1027.81,772.12 L1028.73,775.17 L1029.64,778.22 L1030.56,781.27 L1031.47,784.33 L1032.38,787.38 L1033.29,790.43 L1034.2,793.49 L1035.1,796.54 L1036,799.59 L1036.91,802.65 L1037.8,805.71 L1038.7,808.76 L1039.6,811.82 L1040.49,814.88 L1041.38,817.94 L1042.27,821 L1043.15,824.06 L1044.04,827.12 L1044.92,830.18 L1045.8,833.24 L1046.68,836.3 L1047.56,839.36 L1048.44,842.43 L1049.31,845.49 L1050.18,848.55 L1051.05,851.62 L1051.92,854.68 L1052.79,857.75 L1053.66,860.82 L1054.52,863.88 L1055.38,866.95 L1056.24,870.02 L1057.1,873.09 L1057.96,876.15 L1058.81,879.22 L1059.67,882.29 L1060.52,885.36 L1061.37,888.43 L1062.22,891.51 L1063.07,894.58 L1063.92,897.65 L1064.76,900.72 L1065.6,903.79 L1066.45,906.87 L1067.29,909.94 L1068.12,913.02 L1068.96,916.09 L1069.8,919.16 L1070.63,922.24 L1071.47,925.32 L1072.3,928.39 L1073.13,931.47 L1073.96,934.55 L1074.79,937.62 L1075.61,940.7 L1076.44,943.78 L1077.26,946.86 L1078.09,949.94 L1078.91,953.02 L1079.73,956.09 L1080.55,959.17 L1081.36,962.25 L1082.18,965.34 L1083,968.42 L1083.81,971.5 L1084.63,974.58 L1085.44,977.66 L1086.25,980.74 L1087.06,983.82 L1087.87,986.91 L1088.68,989.99 L1089.48,993.07 L1090.29,996.16 L1091.09,999.24 L1091.9,1002.33 L1092.7,1005.41 L1093.5,1008.49 L1094.3,1011.58 L1095.11,1014.66 L1095.9,1017.75 L1096.7,1020.83 L1097.5,1023.92 L1098.3,1027.01 L1099.09,1030.09 L1099.89,1033.18 L1100.68,1036.27 L1101.48,1039.35 L1102.27,1042.44 L1103.06,1045.53 L1103.85,1048.61 L1104.64,1051.7 L1105.43,1054.79 L1106.22,1057.88 L1107.01,1060.97 L1107.8,1064.05 L1108.58,1067.14 L1109.37,1070.23 L1110.16,1073.32 L1110.94,1076.41 L1111.73,1079.5 L1112.51,1082.59 L1113.29,1085.68 L1114.08,1088.77 L1114.86,1091.86 L1115.64,1094.95 L1116.42,1098.04 L1117.2,1101.13" fill="none" stroke="#2177bb" stroke-width="3.4" stroke-dasharray="9 6"/>
<path d="M176.67,7.31 L180.06,7.35 L183.45,7.39 L186.84,7.43 L190.23,7.46 L193.62,7.49 L197.01,7.52 L200.39,7.55 L203.77,7.57 L207.16,7.59 L210.54,7.62 L213.92,7.64 L217.3,7.65 L220.67,7.67 L224.05,7.69 L227.43,7.7 L230.8,7.71 L234.18,7.72 L237.55,7.74 L240.92,7.75 L244.29,7.76 L247.67,7.77 L251.04,7.77 L254.41,7.78 L257.78,7.79 L261.15,7.8 L264.52,7.81 L267.89,7.81 L271.26,7.82 L274.62,7.83 L277.99,7.84 L281.36,7.85 L284.73,7.86 L288.1,7.87 L291.47,7.88 L294.83,7.89 L298.2,7.91 L301.57,7.92 L304.94,7.94 L308.31,7.95 L311.68,7.97 L315.05,7.99 L318.42,8.01 L321.79,8.04 L325.16,8.06 L328.53,8.09 L331.91,8.12 L335.28,8.15 L338.65,8.18 L342.03,8.22 L345.41,8.26 L348.78,8.3 L352.16,8.34 L355.54,8.39 L358.92,8.44 L362.3,8.49 L365.68,8.55 L369.06,8.6 L372.45,8.67 L375.83,8.73 L379.22,8.8 L382.61,8.87 L385.99,8.95 L389.39,9.03 L392.78,9.12 L396.17,9.2 L399.57,9.3 L402.96,9.4 L406.36,9.5 L409.75,9.61 L413.15,9.73 L416.55,9.85 L419.95,9.98 L423.35,10.12 L426.74,10.27 L430.14,10.42 L433.54,10.58 L436.93,10.75 L440.33,10.93 L443.72,11.12 L447.12,11.32 L450.51,11.53 L453.9,11.75 L457.29,11.99 L460.68,12.23 L464.06,12.48 L467.44,12.75 L470.83,13.03 L474.2,13.32 L477.58,13.63 L480.95,13.95 L484.32,14.28 L487.69,14.63 L491.06,15 L494.42,15.37 L497.77,15.77 L501.13,16.18 L504.48,16.6 L507.82,17.04 L511.17,17.5 L514.5,17.98 L517.84,18.48 L521.17,18.99 L524.49,19.52 L527.81,20.07 L531.12,20.64 L534.43,21.23 L537.73,21.83 L541.03,22.46 L544.32,23.11 L547.61,23.78 L550.89,24.48 L554.16,25.19 L557.43,25.93 L560.69,26.68 L563.94,27.46 L567.19,28.27 L570.43,29.1 L573.66,29.95 L576.89,30.83 L580.11,31.73 L583.32,32.65 L586.52,33.61 L589.72,34.58 L592.9,35.59 L596.08,36.62 L599.25,37.67 L602.41,38.76 L605.57,39.87 L608.71,41.01 L611.85,42.17 L614.98,43.36 L618.09,44.57 L621.2,45.81 L624.3,47.08 L627.4,48.37 L630.48,49.68 L633.55,51.02 L636.62,52.39 L639.67,53.77 L642.72,55.18 L645.75,56.62 L648.78,58.08 L651.8,59.56 L654.81,61.06 L657.81,62.59 L660.8,64.13 L663.78,65.7 L666.75,67.29 L669.71,68.91 L672.66,70.54 L675.6,72.2 L678.53,73.87 L681.45,75.57 L684.36,77.29 L687.26,79.03 L690.15,80.78 L693.03,82.56 L695.9,84.36 L698.76,86.17 L701.61,88 L704.45,89.86 L707.28,91.73 L710.1,93.62 L712.9,95.52 L715.7,97.45 L718.49,99.39 L721.26,101.35 L724.03,103.33 L726.78,105.32 L729.52,107.33 L732.25,109.35 L734.97,111.4 L737.68,113.45 L740.38,115.52 L743.07,117.61 L745.74,119.72 L748.41,121.83 L751.06,123.97 L753.7,126.11 L756.33,128.27 L758.95,130.45 L761.56,132.63 L764.15,134.84 L766.74,137.05 L769.31,139.28 L771.87,141.52 L774.42,143.77 L776.95,146.03 L779.48,148.31 L781.99,150.6 L784.49,152.9 L786.98,155.21 L789.46,157.53 L791.92,159.86 L794.37,162.21 L796.81,164.57 L799.24,166.93 L801.66,169.31 L804.06,171.7 L806.45,174.11 L808.83,176.52 L811.2,178.94 L813.55,181.38 L815.9,183.82 L818.23,186.28 L820.55,188.74 L822.85,191.22 L825.15,193.7 L827.43,196.2 L829.7,198.71 L831.96,201.23 L834.21,203.75 L836.44,206.29 L838.66,208.84 L840.87,211.4 L843.07,213.96 L845.25,216.54 L847.43,219.12 L849.59,221.72 L851.74,224.33 L853.87,226.94 L856,229.56 L858.11,232.2 L860.21,234.84 L862.3,237.49 L864.37,240.15 L866.43,242.82 L868.48,245.49 L870.52,248.18 L872.55,250.88 L874.56,253.58 L876.56,256.29 L878.55,259.01 L880.53,261.74 L882.49,264.48 L884.44,267.22 L886.38,269.97 L888.31,272.73 L890.22,275.5 L892.13,278.28 L894.01,281.06 L895.89,283.86 L897.76,286.65 L899.61,289.46 L901.45,292.28 L903.28,295.1 L905.09,297.93 L906.9,300.76 L908.69,303.61 L910.46,306.46 L912.23,309.31 L913.98,312.18 L915.72,315.05 L917.45,317.93 L919.17,320.81 L920.87,323.7 L922.56,326.6 L924.24,329.5 L925.91,332.41 L927.57,335.33 L929.21,338.26 L930.85,341.18 L932.47,344.12 L934.08,347.06 L935.68,350.01 L937.27,352.96 L938.85,355.92 L940.41,358.89 L941.97,361.86 L943.52,364.84 L945.05,367.82 L946.57,370.81 L948.09,373.81 L949.59,376.81 L951.08,379.81 L952.56,382.83 L954.04,385.84 L955.5,388.86 L956.95,391.89 L958.39,394.92 L959.83,397.96 L961.25,401 L962.66,404.05 L964.07,407.1 L965.46,410.16 L966.85,413.23 L968.22,416.29 L969.59,419.36 L970.95,422.44 L972.3,425.52 L973.64,428.61 L974.97,431.7 L976.29,434.79 L977.6,437.89 L978.91,441 L980.21,444.1 L981.5,447.22 L982.78,450.33 L984.05,453.45 L985.31,456.58 L986.57,459.71 L987.82,462.84 L989.06,465.97 L990.29,469.11 L991.52,472.26 L992.74,475.4 L993.95,478.56 L995.15,481.71 L996.35,484.87 L997.54,488.03 L998.72,491.19 L999.9,494.36 L1001.07,497.53 L1002.23,500.71 L1003.38,503.88 L1004.53,507.07 L1005.67,510.25 L1006.81,513.44 L1007.94,516.63 L1009.06,519.82 L1010.18,523.01 L1011.29,526.21 L1012.4,529.41 L1013.5,532.61 L1014.59,535.82 L1015.68,539.03 L1016.76,542.24 L1017.84,545.45 L1018.91,548.67 L1019.98,551.88 L1021.04,555.1 L1022.1,558.33 L1023.15,561.55 L1024.2,564.78 L1025.24,568 L1026.28,571.23 L1027.31,574.47 L1028.34,577.7 L1029.36,580.93 L1030.38,584.17 L1031.39,587.41 L1032.41,590.65 L1033.41,593.89 L1034.42,597.13 L1035.41,600.38 L1036.41,603.62 L1037.4,606.87 L1038.39,610.12 L1039.37,613.37 L1040.35,616.62 L1041.33,619.87 L1042.31,623.12 L1043.28,626.37 L1044.25,629.63 L1045.21,632.88 L1046.17,636.13 L1047.13,639.39 L1048.09,642.65 L1049.04,645.9 L1050,649.16 L1050.94,652.42 L1051.89,655.68 L1052.84,658.94 L1053.78,662.19 L1054.72,665.45 L1055.66,668.71 L1056.59,671.97 L1057.53,675.23 L1058.46,678.49 L1059.39,681.75 L1060.33,685.01 L1061.25,688.26 L1062.18,691.52 L1063.11,694.78 L1064.03,698.04 L1064.96,701.29 L1065.88,704.55 L1066.8,707.81 L1067.72,711.06 L1068.64,714.32 L1069.56,717.57 L1070.48,720.82 L1071.4,724.08 L1072.32,727.33 L1073.23,730.58 L1074.15,733.84 L1075.06,737.09 L1075.98,740.34 L1076.89,743.59 L1077.8,746.84 L1078.71,750.09 L1079.62,753.34 L1080.53,756.59 L1081.44,759.84 L1082.35,763.09 L1083.26,766.34 L1084.17,769.58 L1085.07,772.83 L1085.98,776.08 L1086.89,779.33 L1087.79,782.57 L1088.7,785.82 L1089.6,789.07 L1090.5,792.31 L1091.41,795.56 L1092.31,798.81 L1093.21,802.05 L1094.12,805.3 L1095.02,808.54 L1095.92,811.79 L1096.82,815.03 L1097.72,818.28 L1098.62,821.52 L1099.52,824.77 L1100.42,828.01 L1101.32,831.25 L1102.22,834.5 L1103.12,837.74 L1104.02,840.99 L1104.92,844.23 L1105.81,847.47 L1106.71,850.72 L1107.61,853.96 L1108.51,857.2 L1109.41,860.45 L1110.31,863.69 L1111.2,866.94 L1112.1,870.18 L1113,873.42 L1113.9,876.67 L1114.8,879.91 L1115.69,883.15 L1116.59,886.4 L1117.49,889.64 L1118.39,892.88 L1119.29,896.13 L1120.19,899.37 L1121.09,902.62 L1121.98,905.86 L1122.88,909.11 L1123.78,912.35 L1124.68,915.59 L1125.58,918.84 L1126.48,922.08 L1127.38,925.33 L1128.28,928.57 L1129.18,931.82 L1130.09,935.07 L1130.99,938.31 L1131.89,941.56 L1132.79,944.8 L1133.7,948.05 L1134.6,951.3 L1135.5,954.54 L1136.41,957.79 L1137.31,961.04 L1138.22,964.29 L1139.12,967.54 L1140.03,970.78 L1140.94,974.03 L1141.84,977.28 L1142.75,980.53 L1143.66,983.78 L1144.57,987.03 L1145.48,990.28 L1146.39,993.53 L1147.3,996.78 L1148.22,1000.04 L1149.13,1003.29 L1150.04,1006.54 L1150.96,1009.79 L1151.87,1013.05 L1152.79,1016.3 L1153.7,1019.56 L1154.62,1022.81 L1155.54,1026.07 L1156.46,1029.32 L1157.38,1032.58 L1158.3,1035.84 L1159.22,1039.09 L1160.15,1042.35 L1161.07,1045.61 L1162,1048.87 L1162.92,1052.13 L1163.85,1055.39 L1164.78,1058.65 L1165.71,1061.91 L1166.64,1065.17 L1167.57,1068.43 L1168.5,1071.7 L1169.44,1074.96 L1170.37,1078.23 L1171.31,1081.49 L1172.25,1084.76 L1173.18,1088.02 L1174.12,1091.29 L1175.06,1094.56 L1176.01,1097.83 L1176.95,1101.1" fill="none" stroke="#2177bb" stroke-width="3.6"/>
<line x1="825" y1="70.25" x2="783.28" y2="103.98" stroke="#222" stroke-width="2"/><path d="M758.4,124.1 L782.1,97.74 L783.28,103.98 L789.14,106.45 Z" fill="#222"/>
<line x1="885.5" y1="217.2" x2="843.5" y2="251.62" stroke="#222" stroke-width="2"/><path d="M818.75,271.9 L842.27,245.38 L843.5,251.62 L849.37,254.05 Z" fill="#222"/>
<line x1="1121.2" y1="437.9" x2="1079.4" y2="471.32" stroke="#222" stroke-width="2"/><path d="M1054.4,491.3 L1078.24,465.07 L1079.4,471.32 L1085.24,473.82 Z" fill="#222"/>
<line x1="1186.5" y1="571.5" x2="1144.42" y2="606.08" stroke="#222" stroke-width="2"/><path d="M1119.7,626.4 L1143.18,599.85 L1144.42,606.08 L1150.3,608.5 Z" fill="#222"/>
<text x="264.2" y="46.4" font-size="43.5">Pt</text>
<text x="257.8" y="237.2" font-size="43.5">Pd<tspan font-size="31.5" dy="7.3">84</tspan></text>
<text x="827.5" y="65" font-size="43.5">Oxygen</text>
<text x="894.8" y="208.8" font-size="43.5">Air</text>
<text x="1117.5" y="429" font-size="43.5">Oxygen</text>
<text x="1196.5" y="565.6" font-size="43.5">Air</text>
<rect x="313.6" y="369" width="528.4" height="247.6" fill="#fff" stroke="#6b6b6b" stroke-width="2"/>
<line x1="304.4" y1="609.7" x2="313.6" y2="609.7" stroke="#6b6b6b" stroke-width="2"/>
<text x="253.02" y="619.3" font-size="32">0.0</text>
<line x1="304.4" y1="567.26" x2="313.6" y2="567.26" stroke="#6b6b6b" stroke-width="2"/>
<text x="253.02" y="576.86" font-size="32">0.2</text>
<line x1="304.4" y1="524.82" x2="313.6" y2="524.82" stroke="#6b6b6b" stroke-width="2"/>
<text x="253.02" y="534.42" font-size="32">0.4</text>
<line x1="304.4" y1="482.38" x2="313.6" y2="482.38" stroke="#6b6b6b" stroke-width="2"/>
<text x="253.02" y="491.98" font-size="32">0.6</text>
<line x1="304.4" y1="439.94" x2="313.6" y2="439.94" stroke="#6b6b6b" stroke-width="2"/>
<text x="253.02" y="449.54" font-size="32">0.8</text>
<line x1="304.4" y1="397.5" x2="313.6" y2="397.5" stroke="#6b6b6b" stroke-width="2"/>
<text x="270.81" y="407.1" font-size="32">.0</text><path d="M256.25,390.65 L261.69,390.65 L261.69,407.1 L264.5,407.1 L264.5,384.6 L262.2,384.6 C261.85,386.24 261.21,387.26 259.8,387.8 C258.78,388.19 257.5,388.35 256.25,388.38 Z"/>
<line x1="320.6" y1="616.6" x2="320.6" y2="626" stroke="#6b6b6b" stroke-width="2"/>
<text x="298.36" y="657.8" font-size="32">0.0</text>
<line x1="437.1" y1="616.6" x2="437.1" y2="626" stroke="#6b6b6b" stroke-width="2"/>
<text x="414.86" y="657.8" font-size="32">0.5</text>
<line x1="553.6" y1="616.6" x2="553.6" y2="626" stroke="#6b6b6b" stroke-width="2"/>
<text x="549.15" y="657.8" font-size="32">.0</text><path d="M534.59,641.35 L540.03,641.35 L540.03,657.8 L542.85,657.8 L542.85,635.3 L540.54,635.3 C540.19,636.94 539.55,637.96 538.14,638.5 C537.12,638.89 535.84,639.05 534.59,639.08 Z"/>
<line x1="670.1" y1="616.6" x2="670.1" y2="626" stroke="#6b6b6b" stroke-width="2"/>
<text x="665.65" y="657.8" font-size="32">.5</text><path d="M651.09,641.35 L656.53,641.35 L656.53,657.8 L659.35,657.8 L659.35,635.3 L657.04,635.3 C656.69,636.94 656.05,637.96 654.64,638.5 C653.62,638.89 652.34,639.05 651.09,639.08 Z"/>
<line x1="786.6" y1="616.6" x2="786.6" y2="626" stroke="#6b6b6b" stroke-width="2"/>
<text x="764.36" y="657.8" font-size="32">2.0</text>
<text x="506" y="710.2" font-size="32.5">Z' [&#937; cm<tspan font-size="22.5" dy="-23">2</tspan><tspan dy="23" dx="0.5">]</tspan></text>
<text transform="translate(223.4,570.5) rotate(-90)" font-size="32">-Z'' [&#937; cm<tspan font-size="22.5" dy="-23">2</tspan><tspan dy="23" dx="-0.5">]</tspan></text>
<text x="334" y="406" font-size="32">Pt</text>
<path d="M322.61,606.05 C322.68,605.97 322.86,605.73 323,605.55 C323.14,605.36 323.29,605.17 323.46,604.96 C323.62,604.76 323.8,604.54 324,604.3 C324.2,604.07 324.41,603.82 324.65,603.55 C324.88,603.28 325.14,603 325.42,602.69 C325.7,602.38 326,602.06 326.33,601.71 C326.67,601.36 327.03,600.99 327.43,600.59 C327.83,600.2 328.25,599.78 328.73,599.32 C329.2,598.87 329.71,598.39 330.28,597.87 C330.84,597.36 331.45,596.81 332.12,596.22 C332.79,595.63 333.51,595.01 334.31,594.34 C335.11,593.67 335.97,592.96 336.92,592.19 C337.88,591.43 338.9,590.62 340.03,589.75 C341.17,588.87 342.38,587.95 343.74,586.96 C345.09,585.96 346.53,584.91 348.14,583.78 C349.75,582.65 351.47,581.45 353.39,580.16 C355.3,578.87 357.35,577.51 359.63,576.03 C361.91,574.56 364.35,573.01 367.07,571.33 C369.78,569.65 372.69,567.88 375.92,565.97 C379.15,564.06 382.61,562.04 386.46,559.86 C390.3,557.68 394.43,556.03 399,552.9 C403.57,549.77 408.13,544.9 413.9,541.1 C419.67,537.3 426.3,534 433.6,530.1 C440.9,526.2 449.13,521.6 457.7,517.7 C466.27,513.8 474.8,510.25 485,506.7 C495.2,503.15 507.05,499.32 518.9,496.4 C530.75,493.48 543.47,490.97 556.1,489.2 C568.73,487.43 581.7,486.45 594.7,485.8 C607.7,485.15 620.55,485 634.1,485.3 C647.65,485.6 662.22,485.52 676,487.6 C689.78,489.68 703.85,493.57 716.8,497.8 C729.75,502.03 743.13,507.33 753.7,513 C764.27,518.67 773.03,525.47 780.2,531.8 C787.37,538.13 792.55,544.85 796.7,551 C800.85,557.15 802.72,563.22 805.1,568.7 C807.48,574.18 809,579.3 811,583.9 C813,588.5 816.08,594.23 817.1,596.3" fill="none" stroke="#86bbe0" stroke-width="1.3"/>
<path d="M321.61,608.65 C321.64,608.62 321.73,608.55 321.8,608.49 C321.87,608.44 321.95,608.38 322.03,608.31 C322.12,608.25 322.21,608.18 322.31,608.11 C322.41,608.03 322.51,607.95 322.63,607.87 C322.75,607.78 322.88,607.69 323.02,607.59 C323.16,607.49 323.31,607.39 323.48,607.28 C323.65,607.16 323.83,607.04 324.03,606.91 C324.23,606.78 324.44,606.65 324.68,606.5 C324.92,606.35 325.18,606.19 325.46,606.02 C325.74,605.85 326.05,605.66 326.38,605.47 C326.72,605.27 327.08,605.06 327.49,604.83 C327.89,604.61 328.32,604.37 328.8,604.11 C329.28,603.84 329.79,603.57 330.36,603.27 C330.93,602.97 331.54,602.65 332.22,602.3 C332.9,601.96 333.62,601.59 334.43,601.2 C335.24,600.8 336.1,600.38 337.07,599.93 C338.03,599.47 339.06,598.99 340.2,598.46 C341.35,597.94 342.57,597.38 343.94,596.78 C345.3,596.18 346.76,595.54 348.38,594.85 C350,594.15 351.74,593.42 353.67,592.62 C355.6,591.83 357.67,590.98 359.97,590.07 C362.27,589.15 364.73,588.18 367.47,587.13 C370.21,586.08 373.28,584.89 376.4,583.75 C379.52,582.61 382.53,581.57 386.2,580.3 C389.87,579.02 393.88,577.35 398.4,576.1 C402.92,574.85 408.17,573.9 413.3,572.8 C418.43,571.7 423.63,570.48 429.2,569.5 C434.77,568.52 440.38,567.77 446.7,566.9 C453.02,566.03 460.17,564.92 467.1,564.3 C474.03,563.68 481.02,563.07 488.3,563.2 C495.58,563.33 503.45,563.88 510.8,565.1 C518.15,566.32 525.98,568.28 532.4,570.5 C538.82,572.72 544.67,576.25 549.3,578.4 C553.93,580.55 557.63,581.72 560.2,583.4 C562.77,585.08 563.32,586.68 564.7,588.5 C566.08,590.32 567.55,592.27 568.5,594.3 C569.45,596.33 569.97,598.58 570.4,600.7 C570.83,602.82 570.97,605.03 571.1,607 C571.23,608.97 571.18,611.58 571.2,612.5" fill="none" stroke="#86bbe0" stroke-width="1.3"/>
<path d="M322.61,599.45 L329.21,606.05 L322.61,612.65 L316.01,606.05 Z M323,598.95 L329.6,605.55 L323,612.15 L316.4,605.55 Z M323.46,598.36 L330.06,604.96 L323.46,611.56 L316.86,604.96 Z M324,597.7 L330.6,604.3 L324,610.9 L317.4,604.3 Z M324.65,596.95 L331.25,603.55 L324.65,610.15 L318.05,603.55 Z M325.42,596.09 L332.02,602.69 L325.42,609.29 L318.82,602.69 Z M326.33,595.11 L332.93,601.71 L326.33,608.31 L319.73,601.71 Z M327.43,593.99 L334.03,600.59 L327.43,607.19 L320.83,600.59 Z M328.73,592.72 L335.33,599.32 L328.73,605.92 L322.13,599.32 Z M330.28,591.27 L336.88,597.87 L330.28,604.47 L323.68,597.87 Z M332.12,589.62 L338.72,596.22 L332.12,602.82 L325.52,596.22 Z M334.31,587.74 L340.91,594.34 L334.31,600.94 L327.71,594.34 Z M336.92,585.59 L343.52,592.19 L336.92,598.79 L330.32,592.19 Z M340.03,583.15 L346.63,589.75 L340.03,596.35 L333.43,589.75 Z M343.74,580.36 L350.34,586.96 L343.74,593.56 L337.14,586.96 Z M348.14,577.18 L354.74,583.78 L348.14,590.38 L341.54,583.78 Z M353.39,573.56 L359.99,580.16 L353.39,586.76 L346.79,580.16 Z M359.63,569.43 L366.23,576.03 L359.63,582.63 L353.03,576.03 Z M367.07,564.73 L373.67,571.33 L367.07,577.93 L360.47,571.33 Z M375.92,559.37 L382.52,565.97 L375.92,572.57 L369.32,565.97 Z M386.46,553.26 L393.06,559.86 L386.46,566.46 L379.86,559.86 Z M399,546.3 L405.6,552.9 L399,559.5 L392.4,552.9 Z M413.9,534.5 L420.5,541.1 L413.9,547.7 L407.3,541.1 Z M433.6,523.5 L440.2,530.1 L433.6,536.7 L427,530.1 Z M457.7,511.1 L464.3,517.7 L457.7,524.3 L451.1,517.7 Z M485,500.1 L491.6,506.7 L485,513.3 L478.4,506.7 Z M518.9,489.8 L525.5,496.4 L518.9,503 L512.3,496.4 Z M556.1,482.6 L562.7,489.2 L556.1,495.8 L549.5,489.2 Z M594.7,479.2 L601.3,485.8 L594.7,492.4 L588.1,485.8 Z M634.1,478.7 L640.7,485.3 L634.1,491.9 L627.5,485.3 Z M676,481 L682.6,487.6 L676,494.2 L669.4,487.6 Z M716.8,491.2 L723.4,497.8 L716.8,504.4 L710.2,497.8 Z M753.7,506.4 L760.3,513 L753.7,519.6 L747.1,513 Z M780.2,525.2 L786.8,531.8 L780.2,538.4 L773.6,531.8 Z M796.7,544.4 L803.3,551 L796.7,557.6 L790.1,551 Z M805.1,562.1 L811.7,568.7 L805.1,575.3 L798.5,568.7 Z M811,577.3 L817.6,583.9 L811,590.5 L804.4,583.9 Z M817.1,589.7 L823.7,596.3 L817.1,602.9 L810.5,596.3 Z" fill="none" stroke="#74aedb" stroke-width="1.5"/>
<path d="M321.61,601.35 L328.91,608.65 L321.61,615.95 L314.31,608.65 Z M321.8,601.19 L329.1,608.49 L321.8,615.79 L314.5,608.49 Z M322.03,601.01 L329.33,608.31 L322.03,615.61 L314.73,608.31 Z M322.31,600.81 L329.61,608.11 L322.31,615.41 L315.01,608.11 Z M322.63,600.57 L329.93,607.87 L322.63,615.17 L315.33,607.87 Z M323.02,600.29 L330.32,607.59 L323.02,614.89 L315.72,607.59 Z M323.48,599.98 L330.78,607.28 L323.48,614.58 L316.18,607.28 Z M324.03,599.61 L331.33,606.91 L324.03,614.21 L316.73,606.91 Z M324.68,599.2 L331.98,606.5 L324.68,613.8 L317.38,606.5 Z M325.46,598.72 L332.76,606.02 L325.46,613.32 L318.16,606.02 Z M326.38,598.17 L333.68,605.47 L326.38,612.77 L319.08,605.47 Z M327.49,597.53 L334.79,604.83 L327.49,612.13 L320.19,604.83 Z M328.8,596.81 L336.1,604.11 L328.8,611.41 L321.5,604.11 Z M330.36,595.97 L337.66,603.27 L330.36,610.57 L323.06,603.27 Z M332.22,595 L339.52,602.3 L332.22,609.6 L324.92,602.3 Z M334.43,593.9 L341.73,601.2 L334.43,608.5 L327.13,601.2 Z M337.07,592.63 L344.37,599.93 L337.07,607.23 L329.77,599.93 Z M340.2,591.16 L347.5,598.46 L340.2,605.76 L332.9,598.46 Z M343.94,589.48 L351.24,596.78 L343.94,604.08 L336.64,596.78 Z M348.38,587.55 L355.68,594.85 L348.38,602.15 L341.08,594.85 Z M353.67,585.32 L360.97,592.62 L353.67,599.92 L346.37,592.62 Z M359.97,582.77 L367.27,590.07 L359.97,597.37 L352.67,590.07 Z M367.47,579.83 L374.77,587.13 L367.47,594.43 L360.17,587.13 Z M376.4,576.45 L383.7,583.75 L376.4,591.05 L369.1,583.75 Z M386.2,573 L393.5,580.3 L386.2,587.6 L378.9,580.3 Z M398.4,568.8 L405.7,576.1 L398.4,583.4 L391.1,576.1 Z M413.3,565.5 L420.6,572.8 L413.3,580.1 L406,572.8 Z M429.2,562.2 L436.5,569.5 L429.2,576.8 L421.9,569.5 Z M446.7,559.6 L454,566.9 L446.7,574.2 L439.4,566.9 Z M467.1,557 L474.4,564.3 L467.1,571.6 L459.8,564.3 Z M488.3,555.9 L495.6,563.2 L488.3,570.5 L481,563.2 Z M510.8,557.8 L518.1,565.1 L510.8,572.4 L503.5,565.1 Z M532.4,563.2 L539.7,570.5 L532.4,577.8 L525.1,570.5 Z M549.3,571.1 L556.6,578.4 L549.3,585.7 L542,578.4 Z M560.2,576.1 L567.5,583.4 L560.2,590.7 L552.9,583.4 Z M564.7,581.2 L572,588.5 L564.7,595.8 L557.4,588.5 Z M568.5,587 L575.8,594.3 L568.5,601.6 L561.2,594.3 Z M570.4,593.4 L577.7,600.7 L570.4,608 L563.1,600.7 Z M571.1,599.7 L578.4,607 L571.1,614.3 L563.8,607 Z M571.2,605.2 L578.5,612.5 L571.2,619.8 L563.9,612.5 Z" fill="#2177bb" stroke="none"/>
<line x1="392" y1="515.5" x2="397.5" y2="547.2" stroke="#555" stroke-width="1.1"/>
<line x1="552.8" y1="465.2" x2="555" y2="484.8" stroke="#555" stroke-width="1.1"/>
<line x1="776.4" y1="493.2" x2="779.8" y2="527.2" stroke="#555" stroke-width="1.1"/>
<line x1="558.3" y1="556" x2="564.3" y2="581" stroke="#555" stroke-width="1.1"/>
<line x1="375.6" y1="585.5" x2="377.8" y2="598.6" stroke="#555" stroke-width="1.1"/>
<line x1="467.5" y1="569" x2="471.9" y2="596.4" stroke="#555" stroke-width="1.1"/>
<text x="535.29" y="460.8" font-size="23">0 Hz</text><path d="M524.82,448.98 L528.73,448.98 L528.73,460.8 L530.76,460.8 L530.76,444.63 L529.1,444.63 C528.85,445.8 528.39,446.54 527.38,446.93 C526.64,447.21 525.72,447.32 524.82,447.35 Z"/>
<text x="461.5" y="486.2" font-size="23">Air</text>
<text x="365.79" y="510" font-size="23">00 Hz</text><path d="M355.32,498.18 L359.23,498.18 L359.23,510 L361.26,510 L361.26,493.83 L359.6,493.83 C359.35,495 358.89,495.74 357.88,496.13 C357.14,496.41 356.22,496.52 355.32,496.55 Z"/>
<text x="775.18" y="487.6" font-size="23">Hz</text><path d="M758.32,475.78 L762.23,475.78 L762.23,487.6 L764.26,487.6 L764.26,471.43 L762.6,471.43 C762.35,472.6 761.89,473.34 760.88,473.73 C760.14,474.01 759.22,474.12 758.32,474.15 Z"/>
<text x="451" y="550.5" font-size="23">Oxygen</text>
<text x="553.68" y="550.5" font-size="23">Hz</text><path d="M536.82,538.68 L540.73,538.68 L540.73,550.5 L542.76,550.5 L542.76,534.33 L541.1,534.33 C540.85,535.5 540.39,536.24 539.38,536.63 C538.64,536.91 537.72,537.02 536.82,537.04 Z"/>
<text x="357.79" y="616.1" font-size="23">00 Hz</text><path d="M347.32,604.28 L351.23,604.28 L351.23,616.1 L353.26,616.1 L353.26,599.93 L351.6,599.93 C351.35,601.1 350.89,601.84 349.88,602.23 C349.14,602.51 348.22,602.62 347.32,602.64 Z"/>
<text x="454.29" y="616.1" font-size="23">0 Hz</text><path d="M443.82,604.28 L447.73,604.28 L447.73,616.1 L449.76,616.1 L449.76,599.93 L448.1,599.93 C447.85,601.1 447.39,601.84 446.38,602.23 C445.64,602.51 444.72,602.62 443.82,602.64 Z"/>
<rect x="309.2" y="744.8" width="524.2" height="246.8" fill="#fff" stroke="#6b6b6b" stroke-width="2"/>
<line x1="299.5" y1="984.2" x2="309.2" y2="984.2" stroke="#6b6b6b" stroke-width="2"/>
<text x="250.02" y="994.2" font-size="32">0.0</text>
<line x1="299.5" y1="891.6" x2="309.2" y2="891.6" stroke="#6b6b6b" stroke-width="2"/>
<text x="250.02" y="901.6" font-size="32">0.</text><path d="M279.94,885.15 L285.38,885.15 L285.38,901.6 L288.19,901.6 L288.19,879.1 L285.89,879.1 C285.53,880.74 284.89,881.76 283.49,882.3 C282.46,882.69 281.18,882.85 279.94,882.88 Z"/>
<line x1="299.5" y1="799" x2="309.2" y2="799" stroke="#6b6b6b" stroke-width="2"/>
<text x="250.02" y="809" font-size="32">0.2</text>
<line x1="316.5" y1="991.6" x2="316.5" y2="1001.3" stroke="#6b6b6b" stroke-width="2"/>
<text x="294.26" y="1032.2" font-size="32">0.0</text>
<line x1="418.5" y1="991.6" x2="418.5" y2="1001.3" stroke="#6b6b6b" stroke-width="2"/>
<text x="396.26" y="1032.2" font-size="32">0.</text><path d="M426.18,1015.75 L431.62,1015.75 L431.62,1032.2 L434.43,1032.2 L434.43,1009.7 L432.13,1009.7 C431.78,1011.34 431.14,1012.36 429.73,1012.9 C428.71,1013.29 427.43,1013.45 426.18,1013.48 Z"/>
<line x1="520.5" y1="991.6" x2="520.5" y2="1001.3" stroke="#6b6b6b" stroke-width="2"/>
<text x="498.26" y="1032.2" font-size="32">0.2</text>
<line x1="622.5" y1="991.6" x2="622.5" y2="1001.3" stroke="#6b6b6b" stroke-width="2"/>
<text x="600.26" y="1032.2" font-size="32">0.3</text>
<line x1="724.5" y1="991.6" x2="724.5" y2="1001.3" stroke="#6b6b6b" stroke-width="2"/>
<text x="702.26" y="1032.2" font-size="32">0.4</text>
<line x1="826.5" y1="991.6" x2="826.5" y2="1001.3" stroke="#6b6b6b" stroke-width="2"/>
<text x="804.26" y="1032.2" font-size="32">0.5</text>
<text x="500" y="1084.7" font-size="32.5">Z' [&#937; cm<tspan font-size="22.5" dy="-23">2</tspan><tspan dy="23" dx="0.5">]</tspan></text>
<text transform="translate(219.6,947.5) rotate(-90)" font-size="32">-Z'' [&#937; cm<tspan font-size="22.5" dy="-23">2</tspan><tspan dy="23" dx="-0.5">]</tspan></text>
<text x="328.5" y="781.3" font-size="32">Pd<tspan font-size="23" dy="6">84</tspan></text>
<path d="M319,980.5 C320.42,978.75 324.58,973.42 327.5,970 C330.42,966.58 333.2,963.08 336.5,960 C339.8,956.92 343.57,954.07 347.3,951.5 C351.03,948.93 354.83,946.63 358.9,944.6 C362.97,942.57 367.3,941.07 371.7,939.3 C376.1,937.53 380.57,935.78 385.3,934 C390.03,932.22 394.92,930.3 400.1,928.6 C405.28,926.9 410.78,925.53 416.4,923.8 C422.02,922.07 427.9,920.23 433.8,918.2 C439.7,916.17 445.08,913.98 451.8,911.6 C458.52,909.22 466.52,906.33 474.1,903.9 C481.68,901.47 488.98,899.43 497.3,897 C505.62,894.57 514.53,891.45 524,889.3 C533.47,887.15 543.93,885.38 554.1,884.1 C564.27,882.82 574.35,882.12 585,881.6 C595.65,881.08 607.03,880.65 618,881 C628.97,881.35 640.3,882.17 650.8,883.7 C661.3,885.23 671.07,887.82 681,890.2 C690.93,892.58 701.28,895.02 710.4,898 C719.52,900.98 727.9,904.3 735.7,908.1 C743.5,911.9 750.75,916.73 757.2,920.8 C763.65,924.87 769.35,928.43 774.4,932.5 C779.45,936.57 784.02,941.07 787.5,945.2 C790.98,949.33 793.42,953.38 795.3,957.3 C797.18,961.22 797.98,964.92 798.8,968.7 C799.62,972.48 799.97,978.12 800.2,980" fill="none" stroke="#f2a081" stroke-width="1.3"/>
<path d="M322.7,976.5 C323.77,974.77 326.6,969.48 329.1,966.1 C331.6,962.72 334.47,959.3 337.7,956.2 C340.93,953.1 344.52,950.32 348.5,947.5 C352.48,944.68 357.12,941.87 361.6,939.3 C366.08,936.73 370.33,934.55 375.4,932.1 C380.47,929.65 386.23,926.97 392,924.6 C397.77,922.23 403.78,920.23 410,917.9 C416.22,915.57 422.33,912.93 429.3,910.6 C436.27,908.27 443.95,906.17 451.8,903.9 C459.65,901.63 467.67,899 476.4,897 C485.13,895 494.63,893.38 504.2,891.9 C513.77,890.42 523.77,888.88 533.8,888.1 C543.83,887.32 554.15,887 564.4,887.2 C574.65,887.4 585.03,888.25 595.3,889.3 C605.57,890.35 616.1,891.5 626,893.5 C635.9,895.5 645.75,898.15 654.7,901.3 C663.65,904.45 671.98,908.5 679.7,912.4 C687.42,916.3 695.02,920.27 701,924.7 C706.98,929.13 711.27,934.45 715.6,939 C719.93,943.55 724.2,947.87 727,952 C729.8,956.13 731.27,959.88 732.4,963.8 C733.53,967.72 733.57,973.55 733.8,975.5" fill="none" stroke="#f2a081" stroke-width="1.3"/>
<circle cx="319" cy="980.5" r="5.2" fill="none" stroke="#f09572" stroke-width="1.4"/><circle cx="327.5" cy="970" r="5.2" fill="none" stroke="#f09572" stroke-width="1.4"/><circle cx="336.5" cy="960" r="5.2" fill="none" stroke="#f09572" stroke-width="1.4"/><circle cx="347.3" cy="951.5" r="5.2" fill="none" stroke="#f09572" stroke-width="1.4"/><circle cx="358.9" cy="944.6" r="5.2" fill="none" stroke="#f09572" stroke-width="1.4"/><circle cx="371.7" cy="939.3" r="5.2" fill="none" stroke="#f09572" stroke-width="1.4"/><circle cx="385.3" cy="934" r="5.2" fill="none" stroke="#f09572" stroke-width="1.4"/><circle cx="400.1" cy="928.6" r="5.2" fill="none" stroke="#f09572" stroke-width="1.4"/><circle cx="416.4" cy="923.8" r="5.2" fill="none" stroke="#f09572" stroke-width="1.4"/><circle cx="433.8" cy="918.2" r="5.2" fill="none" stroke="#f09572" stroke-width="1.4"/><circle cx="451.8" cy="911.6" r="5.2" fill="none" stroke="#f09572" stroke-width="1.4"/><circle cx="474.1" cy="903.9" r="5.2" fill="none" stroke="#f09572" stroke-width="1.4"/><circle cx="497.3" cy="897" r="5.2" fill="none" stroke="#f09572" stroke-width="1.4"/><circle cx="524" cy="889.3" r="5.2" fill="none" stroke="#f09572" stroke-width="1.4"/><circle cx="554.1" cy="884.1" r="5.2" fill="none" stroke="#f09572" stroke-width="1.4"/><circle cx="585" cy="881.6" r="5.2" fill="none" stroke="#f09572" stroke-width="1.4"/><circle cx="618" cy="881" r="5.2" fill="none" stroke="#f09572" stroke-width="1.4"/><circle cx="650.8" cy="883.7" r="5.2" fill="none" stroke="#f09572" stroke-width="1.4"/><circle cx="681" cy="890.2" r="5.2" fill="none" stroke="#f09572" stroke-width="1.4"/><circle cx="710.4" cy="898" r="5.2" fill="none" stroke="#f09572" stroke-width="1.4"/><circle cx="735.7" cy="908.1" r="5.2" fill="none" stroke="#f09572" stroke-width="1.4"/><circle cx="757.2" cy="920.8" r="5.2" fill="none" stroke="#f09572" stroke-width="1.4"/><circle cx="774.4" cy="932.5" r="5.2" fill="none" stroke="#f09572" stroke-width="1.4"/><circle cx="787.5" cy="945.2" r="5.2" fill="none" stroke="#f09572" stroke-width="1.4"/><circle cx="795.3" cy="957.3" r="5.2" fill="none" stroke="#f09572" stroke-width="1.4"/><circle cx="798.8" cy="968.7" r="5.2" fill="none" stroke="#f09572" stroke-width="1.4"/><circle cx="800.2" cy="980" r="5.2" fill="none" stroke="#f09572" stroke-width="1.4"/>
<circle cx="322.7" cy="976.5" r="5.4" fill="#e65a30"/><circle cx="329.1" cy="966.1" r="5.4" fill="#e65a30"/><circle cx="337.7" cy="956.2" r="5.4" fill="#e65a30"/><circle cx="348.5" cy="947.5" r="5.4" fill="#e65a30"/><circle cx="361.6" cy="939.3" r="5.4" fill="#e65a30"/><circle cx="375.4" cy="932.1" r="5.4" fill="#e65a30"/><circle cx="392" cy="924.6" r="5.4" fill="#e65a30"/><circle cx="410" cy="917.9" r="5.4" fill="#e65a30"/><circle cx="429.3" cy="910.6" r="5.4" fill="#e65a30"/><circle cx="451.8" cy="903.9" r="5.4" fill="#e65a30"/><circle cx="476.4" cy="897" r="5.4" fill="#e65a30"/><circle cx="504.2" cy="891.9" r="5.4" fill="#e65a30"/><circle cx="533.8" cy="888.1" r="5.4" fill="#e65a30"/><circle cx="564.4" cy="887.2" r="5.4" fill="#e65a30"/><circle cx="595.3" cy="889.3" r="5.4" fill="#e65a30"/><circle cx="626" cy="893.5" r="5.4" fill="#e65a30"/><circle cx="654.7" cy="901.3" r="5.4" fill="#e65a30"/><circle cx="679.7" cy="912.4" r="5.4" fill="#e65a30"/><circle cx="701" cy="924.7" r="5.4" fill="#e65a30"/><circle cx="715.6" cy="939" r="5.4" fill="#e65a30"/><circle cx="727" cy="952" r="5.4" fill="#e65a30"/><circle cx="732.4" cy="963.8" r="5.4" fill="#e65a30"/><circle cx="733.8" cy="975.5" r="5.4" fill="#e65a30"/>
<line x1="538.6" y1="866.1" x2="535.2" y2="884.1" stroke="#555" stroke-width="1.1"/>
<line x1="498.2" y1="900.5" x2="495.6" y2="918.5" stroke="#555" stroke-width="1.1"/>
<line x1="686.9" y1="868.1" x2="682" y2="885.7" stroke="#555" stroke-width="1.1"/>
<line x1="802.1" y1="936.4" x2="796.3" y2="954" stroke="#555" stroke-width="1.1"/>
<line x1="692.8" y1="958" x2="699.6" y2="930.6" stroke="#555" stroke-width="1.1"/>
<text x="517.07" y="860.6" font-size="23.5">00 Hz</text><path d="M506.37,848.52 L510.37,848.52 L510.37,860.6 L512.44,860.6 L512.44,844.08 L510.74,844.08 C510.49,845.28 510.02,846.03 508.98,846.43 C508.23,846.71 507.29,846.83 506.37,846.85 Z"/>
<text x="607" y="864" font-size="23.5">Air</text>
<text x="669.57" y="862.2" font-size="23.5">0 Hz</text><path d="M658.87,850.12 L662.87,850.12 L662.87,862.2 L664.94,862.2 L664.94,845.68 L663.24,845.68 C662.99,846.88 662.52,847.63 661.48,848.03 C660.73,848.31 659.79,848.43 658.87,848.45 Z"/>
<text x="474.07" y="937.4" font-size="23.5">00 Hz</text><path d="M463.37,925.32 L467.37,925.32 L467.37,937.4 L469.44,937.4 L469.44,920.88 L467.74,920.88 C467.49,922.08 467.02,922.83 465.98,923.23 C465.23,923.51 464.29,923.63 463.37,923.65 Z"/>
<text x="564" y="925.4" font-size="23.5">Oxygen</text>
<text x="801.1" y="930.6" font-size="23.5">Hz</text><path d="M783.87,918.52 L787.87,918.52 L787.87,930.6 L789.94,930.6 L789.94,914.08 L788.24,914.08 C787.99,915.28 787.52,916.03 786.48,916.43 C785.73,916.71 784.79,916.83 783.87,916.85 Z"/>
<text x="678.37" y="977.5" font-size="23.5">0 Hz</text><path d="M667.67,965.42 L671.67,965.42 L671.67,977.5 L673.74,977.5 L673.74,960.98 L672.04,960.98 C671.79,962.18 671.32,962.93 670.28,963.33 C669.53,963.61 668.59,963.73 667.67,963.75 Z"/></g></svg>
</body></html>
